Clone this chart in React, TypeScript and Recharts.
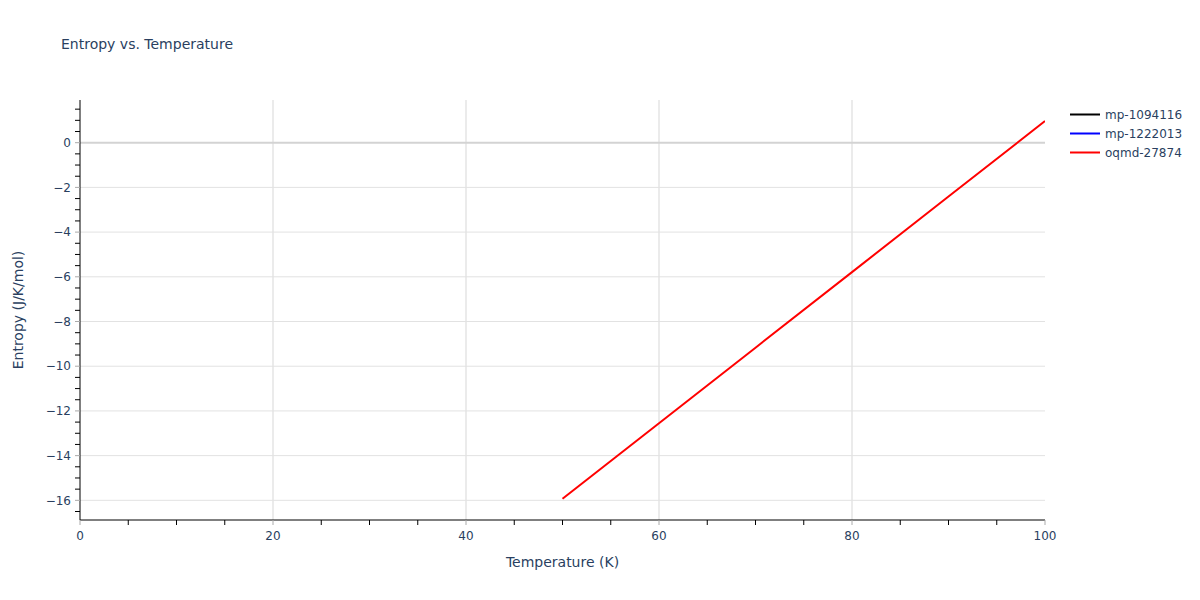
import React from "react";
import { LineChart, Line, XAxis, YAxis, ReferenceLine } from "recharts";

// temperature (K) / entropy (J/K/mol)
const oqmdTemps = [50, 60, 70, 80, 90, 100];
const oqmdEntropy = [-15.93, -12.55, -9.17, -5.79, -2.41, 0.97];
const mp1094116Temps: number[] = [];
const mp1094116Entropy: number[] = [];
const mp1222013Temps: number[] = [];
const mp1222013Entropy: number[] = [];

const xTicks = [0, 20, 40, 60, 80, 100];
const xGrid = [20, 40, 60, 80];
const xAllTicks = [
  0, 5, 10, 15, 20, 25, 30, 35, 40, 45, 50, 55, 60, 65, 70, 75, 80, 85, 90, 95, 100,
];
const yTicks = [-16, -14, -12, -10, -8, -6, -4, -2, 0];
const yGrid = [-16, -14, -12, -10, -8, -6, -4, -2];
const yAllTicks = [
  1.5, 1, 0.5, 0, -0.5, -1, -1.5, -2, -2.5, -3, -3.5, -4, -4.5, -5, -5.5, -6,
  -6.5, -7, -7.5, -8, -8.5, -9, -9.5, -10, -10.5, -11, -11.5, -12, -12.5, -13,
  -13.5, -14, -14.5, -15, -15.5, -16, -16.5,
];

const series = [
  { name: "mp-1094116", color: "#000000", temps: mp1094116Temps, values: mp1094116Entropy },
  { name: "mp-1222013", color: "#0000ff", temps: mp1222013Temps, values: mp1222013Entropy },
  { name: "oqmd-27874", color: "#ff0000", temps: oqmdTemps, values: oqmdEntropy },
];

const FONT = '"DejaVu Sans", verdana, sans-serif';
const TEXT = "#2a3f5f";
const Y_DOMAIN: [number, number] = [-16.88, 1.91];
const TICK_LEN = 5;
const X_GAP = 6;
const Y_GAP = 4;

const fmt = (v: number) => String(v).replace("-", "\u2212");

// major ticks: gray line + label, minor ticks: short black line only
const XTick = ({ x, y, payload }: any) => {
  const major = xTicks.includes(payload.value);
  const axisY = y - TICK_LEN - X_GAP;
  return (
    <g>
      <line x1={x} x2={x} y1={axisY} y2={axisY + TICK_LEN} stroke={major ? "#aaa" : "#000"} />
      {major && (
        <text x={x} y={y} dy="0.71em" textAnchor="middle" fill={TEXT} fontSize={12} fontFamily={FONT}>
          {fmt(payload.value)}
        </text>
      )}
    </g>
  );
};

const YTick = ({ x, y, payload }: any) => {
  const major = yTicks.includes(payload.value);
  const axisX = x + TICK_LEN + Y_GAP;
  return (
    <g>
      <line x1={axisX - TICK_LEN} x2={axisX} y1={y} y2={y} stroke={major ? "#aaa" : "#000"} />
      {major && (
        <text x={x} y={y} dy="0.355em" textAnchor="end" fill={TEXT} fontSize={12} fontFamily={FONT}>
          {fmt(payload.value)}
        </text>
      )}
    </g>
  );
};

export default function App() {
  return (
    <div
      style={{
        position: "absolute",
        left: 0,
        top: 0,
        width: 1200,
        height: 600,
        background: "#fff",
        fontFamily: FONT,
        color: TEXT,
      }}
    >
      <LineChart
        width={1200}
        height={600}
        margin={{ top: 100, right: 155, left: 20, bottom: 50 }}
      >
        <XAxis
          type="number"
          dataKey="x"
          domain={[0, 100]}
          ticks={xAllTicks}
          interval={0}
          tick={<XTick />}
          tickLine={false}
          tickSize={TICK_LEN}
          tickMargin={X_GAP}
          axisLine={{ stroke: "#000" }}
          height={30}
          allowDataOverflow
        />
        <YAxis
          type="number"
          domain={Y_DOMAIN}
          ticks={yAllTicks}
          interval={0}
          tick={<YTick />}
          tickLine={false}
          tickSize={TICK_LEN}
          tickMargin={Y_GAP}
          axisLine={{ stroke: "#000" }}
          width={60}
          allowDataOverflow
        />
        {xGrid.map((v) => (
          <ReferenceLine key={"x" + v} x={v} stroke="#e5e5e5" strokeWidth={1.5} />
        ))}
        {yGrid.map((v) => (
          <ReferenceLine key={"y" + v} y={v} stroke="#e2e2e2" strokeWidth={1} />
        ))}
        <ReferenceLine y={0} stroke="#d3d3d3" strokeWidth={2} />
        {series.map((s) => (
          <Line
            key={s.name}
            data={s.temps.map((t, i) => ({ x: t, y: s.values[i] }))}
            dataKey="y"
            name={s.name}
            type="linear"
            stroke={s.color}
            strokeWidth={2}
            dot={false}
            isAnimationActive={false}
          />
        ))}
      </LineChart>

      <div
        style={{
          position: "absolute",
          left: 61,
          top: 36,
          fontSize: 14,
          whiteSpace: "nowrap",
        }}
      >
        Entropy vs. Temperature
      </div>

      <div
        style={{
          position: "absolute",
          left: 80,
          width: 965,
          top: 554,
          textAlign: "center",
          fontSize: 14,
        }}
      >
        Temperature (K)
      </div>

      <div
        style={{
          position: "absolute",
          left: 18,
          top: 310,
          fontSize: 14,
          whiteSpace: "nowrap",
          transform: "translate(-50%, -50%) rotate(-90deg)",
        }}
      >
        Entropy (J/K/mol)
      </div>

      <div style={{ position: "absolute", left: 1068, top: 105 }}>
        {series.map((s) => (
          <div
            key={s.name}
            style={{ display: "flex", alignItems: "center", height: 19, fontSize: 12 }}
          >
            <svg width={37} height={19}>
              <line x1={2} y1={9.5} x2={32} y2={9.5} stroke={s.color} strokeWidth={2} />
            </svg>
            <span>{s.name}</span>
          </div>
        ))}
      </div>
    </div>
  );
}
